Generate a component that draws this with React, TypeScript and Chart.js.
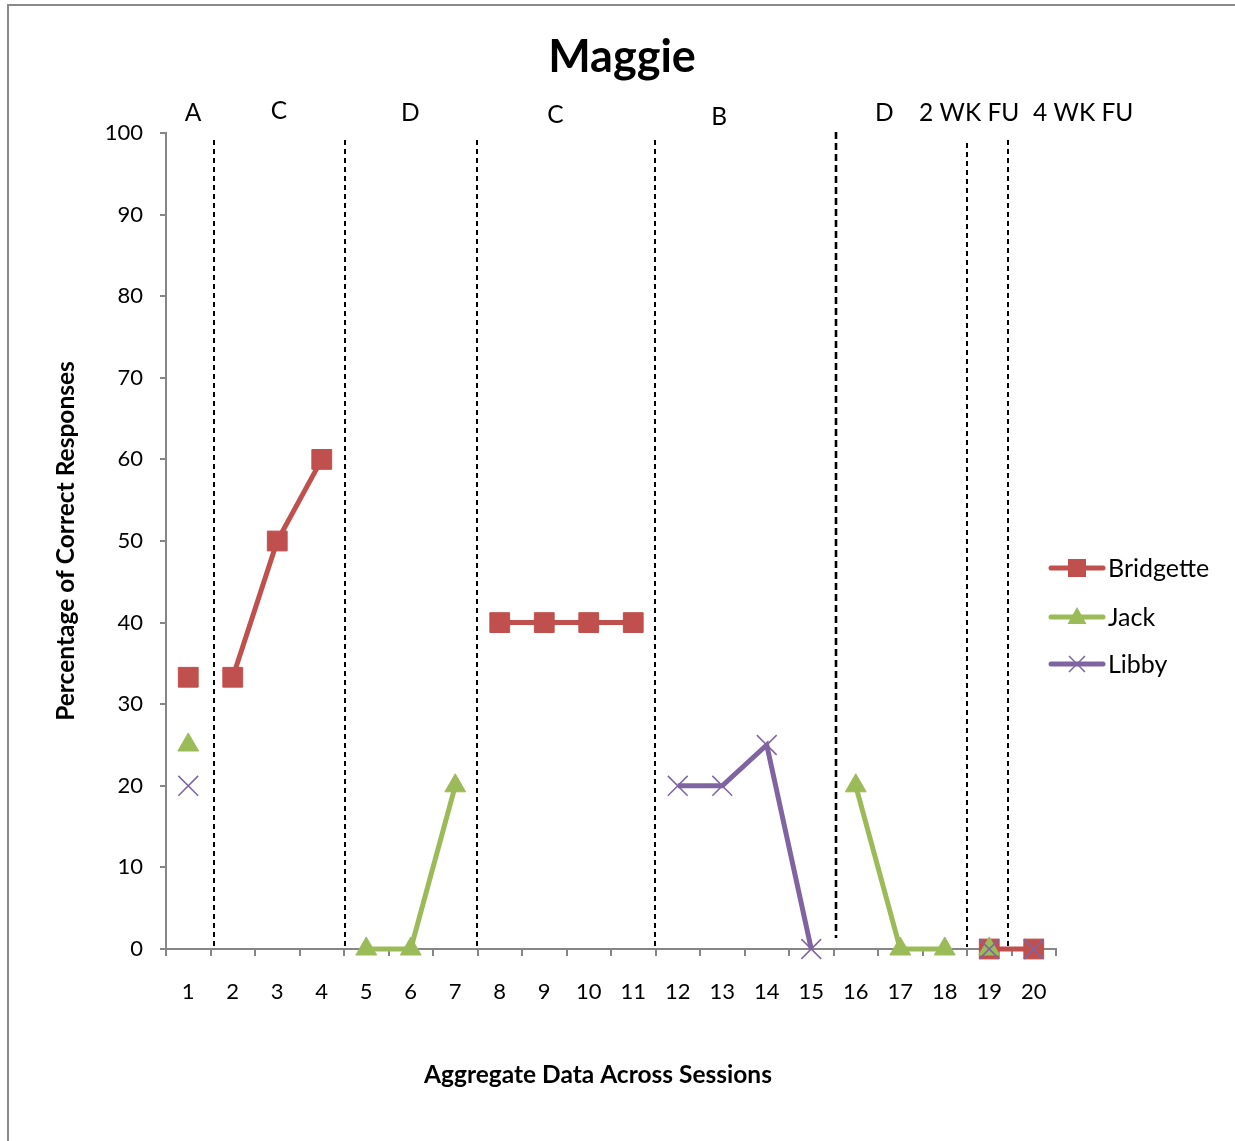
import React, { useEffect, useRef } from "react";
import { Chart, registerables } from "chart.js";

Chart.register(...registerables);

const sessions = ["1","2","3","4","5","6","7","8","9","10","11","12","13","14","15","16","17","18","19","20"];
const bridgette = [33.3, 33.3, 50, 60, null, null, null, 40, 40, 40, 40, null, null, null, null, null, null, null, 0, 0];
const jack = [25, null, null, null, 0, 0, 20, null, null, null, null, null, null, null, null, 20, 0, 0, 0, null];
const libby = [20, null, null, null, null, null, null, null, null, null, null, 20, 20, 25, 0, null, null, null, 0, 0];
// segment breaks (index of the first point of a segment not joined)
const bridgetteBreaks = [0];
const jackBreaks = [17];
const libbyBreaks = [18];

const phaseLabels = ["A", "C", "D", "C", "B", "D", "2 WK FU", "4 WK FU"];
const phaseLabelAt = [0.11, 2.04, 4.99, 8.25, 11.93, 15.64, 17.55, 20.11];
const phaseLineAt = [0.58, 3.53, 6.49, 10.49, 14.56, 17.51, 18.43];

const RED = "#C0504D";
const GREEN = "#9BBB59";
const PURPLE = "#8064A2";
const FONT = "Lato, 'Open Sans', sans-serif";

const overlay = {
  id: "overlay",
  beforeDraw(chart: any) {
    const ctx = chart.ctx;
    ctx.save();
    ctx.fillStyle = "#fff";
    ctx.fillRect(0, 0, chart.width, chart.height);
    ctx.strokeStyle = "#8a8a8a";
    ctx.lineWidth = 2;
    ctx.beginPath();
    ctx.moveTo(8, chart.height);
    ctx.lineTo(8, 5);
    ctx.lineTo(chart.width, 5);
    ctx.stroke();
    ctx.restore();
  },
  beforeDatasetsDraw(chart: any) {
    const ctx = chart.ctx;
    const x = chart.scales.x;
    ctx.save();
    ctx.strokeStyle = "#000";
    phaseLineAt.forEach((v, i) => {
      const px = Math.round(x.getPixelForValue(v));
      const heavy = i === 4;
      ctx.lineWidth = heavy ? 2.6 : 2;
      ctx.setLineDash(heavy ? [7, 4] : [5, 4]);
      const top = heavy ? 132 : i === 5 ? 143 : 140;
      const bottom = heavy ? 938 : 947;
      ctx.beginPath();
      ctx.moveTo(px, top);
      ctx.lineTo(px, bottom);
      ctx.stroke();
    });
    ctx.restore();
  },
  afterDraw(chart: any) {
    const ctx = chart.ctx;
    const x = chart.scales.x;
    ctx.save();
    ctx.fillStyle = "#000";
    ctx.textAlign = "center";
    ctx.textBaseline = "middle";
    ctx.font = `bold 45px ${FONT}`;
    ctx.fillText("Maggie", 622, 57);
    ctx.font = `24.5px ${FONT}`;
    const ys = [113, 111, 113, 115, 117, 113, 113, 113];
    phaseLabels.forEach((t, i) => {
      ctx.fillText(t, x.getPixelForValue(phaseLabelAt[i]), ys[i]);
    });
    ctx.font = `bold 24.5px ${FONT}`;
    ctx.fillText("Aggregate Data Across Sessions", 598, 1075);
    ctx.save();
    ctx.translate(66, 541);
    ctx.rotate(-Math.PI / 2);
    ctx.fillText("Percentage of Correct Responses", 0, 0);
    ctx.restore();

    // legend
    const items = [
      { label: "Bridgette", color: RED, shape: "rect", y: 568 },
      { label: "Jack", color: GREEN, shape: "tri", y: 617 },
      { label: "Libby", color: PURPLE, shape: "x", y: 664 },
    ];
    items.forEach((it) => {
      ctx.strokeStyle = it.color;
      ctx.fillStyle = it.color;
      ctx.lineWidth = 5;
      ctx.lineCap = "round";
      ctx.beginPath();
      ctx.moveTo(1051, it.y);
      ctx.lineTo(1103, it.y);
      ctx.stroke();
      const cx = 1077;
      if (it.shape === "rect") {
        ctx.fillRect(cx - 9, it.y - 9, 18, 18);
      } else if (it.shape === "tri") {
        ctx.beginPath();
        ctx.moveTo(cx, it.y - 10);
        ctx.lineTo(cx + 9.5, it.y + 7);
        ctx.lineTo(cx - 9.5, it.y + 7);
        ctx.closePath();
        ctx.fill();
      } else {
        ctx.lineWidth = 1.5;
        ctx.lineCap = "butt";
        ctx.beginPath();
        ctx.moveTo(cx - 8, it.y - 8);
        ctx.lineTo(cx + 8, it.y + 8);
        ctx.moveTo(cx + 8, it.y - 8);
        ctx.lineTo(cx - 8, it.y + 8);
        ctx.stroke();
      }
      ctx.fillStyle = "#000";
      ctx.textAlign = "left";
      ctx.font = `25px ${FONT}`;
      ctx.fillText(it.label, 1108, it.y + 1);
    });
    ctx.restore();
  },
};

function seg(color: string, breaks: number[]) {
  return {
    borderColor: (c: any) => (breaks.includes(c.p0DataIndex) ? "rgba(0,0,0,0)" : color),
  };
}

export default function App() {
  const ref = useRef<HTMLCanvasElement>(null);
  useEffect(() => {
    const common = {
      borderWidth: 5,
      spanGaps: false,
      clip: false,
    };
    const chart = new Chart(ref.current as HTMLCanvasElement, {
      type: "line",
      data: {
        labels: sessions,
        datasets: [
          {
            ...common,
            label: "Bridgette",
            data: bridgette,
            borderColor: RED,
            backgroundColor: RED,
            pointStyle: "rect",
            pointRadius: 14,
            pointHoverRadius: 14,
            pointBorderWidth: 1,
            pointBorderColor: RED,
            pointBackgroundColor: RED,
            segment: seg(RED, bridgetteBreaks),
            order: 2,
          },
          {
            ...common,
            label: "Jack",
            data: jack,
            borderColor: GREEN,
            backgroundColor: GREEN,
            pointStyle: "triangle",
            pointRadius: 12,
            pointHoverRadius: 12,
            pointBorderWidth: 1,
            pointBorderColor: GREEN,
            pointBackgroundColor: GREEN,
            segment: seg(GREEN, jackBreaks),
            order: 1,
          },
          {
            ...common,
            label: "Libby",
            data: libby,
            borderColor: PURPLE,
            backgroundColor: PURPLE,
            pointStyle: "crossRot",
            pointRadius: 14,
            pointHoverRadius: 14,
            pointBorderWidth: 1.5,
            pointBorderColor: PURPLE,
            pointBackgroundColor: PURPLE,
            segment: seg(PURPLE, libbyBreaks),
            order: 0,
          },
        ],
      },
      options: {
        animation: false,
        responsive: false,
        maintainAspectRatio: false,
        events: [],
        layout: { padding: { left: 106, right: 179, top: 133, bottom: 132 } },
        plugins: { legend: { display: false }, tooltip: { enabled: false }, title: { display: false } },
        scales: {
          x: {
            type: "category",
            offset: true,
            afterFit: (s: any) => { s.height = 60; },
            grid: { offset: true, drawOnChartArea: false, drawTicks: true, tickLength: 7, color: "#868686", lineWidth: 2 },
            border: { display: true, color: "#868686", width: 2 },
            ticks: { color: "#000", font: { family: FONT, size: 22 }, padding: 23, maxRotation: 0, autoSkip: false },
          },
          y: {
            type: "linear",
            min: 0,
            max: 100,
            afterFit: (s: any) => { s.width = 60; },
            grid: { drawOnChartArea: false, drawTicks: true, tickLength: 6, color: "#868686", lineWidth: 2 },
            border: { display: true, color: "#868686", width: 2 },
            ticks: { stepSize: 10, color: "#000", font: { family: FONT, size: 22 }, padding: 17 },
          },
        },
      },
      plugins: [overlay],
    } as any);
    return () => chart.destroy();
  }, []);
  return (
    <div style={{ position: "absolute", left: 0, top: 0, width: 1235, height: 1141 }}>
      <canvas ref={ref} width={1235} height={1141} style={{ width: 1235, height: 1141, display: "block" }} />
    </div>
  );
}
